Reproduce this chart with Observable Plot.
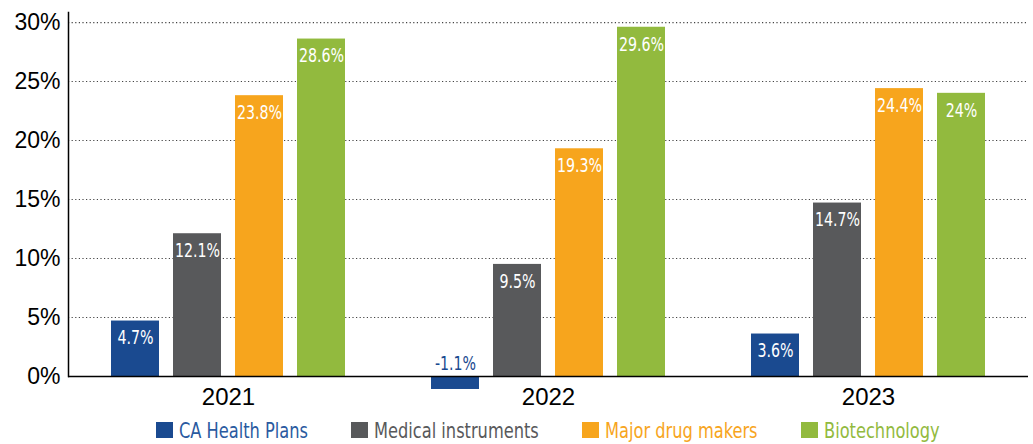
<!DOCTYPE html>
<html>
<head>
<meta charset="utf-8">
<script src="https://cdn.jsdelivr.net/npm/d3@7"></script>
<script src="https://cdn.jsdelivr.net/npm/@observablehq/plot@0.6"></script>
<style>
  html, body { margin: 0; padding: 0; background: #fff; }
  #chart { width: 1033px; }
  #chart svg g[aria-label="text"] { font-stretch: condensed; }
  .legend {
    display: flex; justify-content: center; align-items: center;
    height: 32px; box-sizing: border-box; padding: 4px 5px 0 68px;
    font-family: "DejaVu Sans Condensed", "DejaVu Sans", sans-serif;
    font-stretch: condensed;
    font-size: 22px; gap: 43px;
  }
  .legend .item { display: flex; align-items: center; white-space: nowrap; }
  .legend .sw { width: 17px; height: 16px; margin-right: 6px; flex: none; }
  .legend .lab { display: inline-block; transform-origin: left center; }
</style>
</head>
<body>
<div id="chart"></div>
<script>
const years = ["2021", "2022", "2023"];
const series = ["CA Health Plans", "Medical instruments", "Major drug makers", "Biotechnology"];
const colors = ["#1a4a90", "#58595b", "#f7a51d", "#92ba3e"];
const legendTextColors = ["#2a5aa0", "#58595b", "#f7a51d", "#92ba3e"];
const caHealthPlans = [4.7, -1.1, 3.6];
const medicalInstruments = [12.1, 9.5, 14.7];
const majorDrugMakers = [23.8, 19.3, 24.4];
const biotechnology = [28.6, 29.6, 24];
const yTicks = [0, 5, 10, 15, 20, 25, 30];

const seriesValues = [caHealthPlans, medicalInstruments, majorDrugMakers, biotechnology];
const data = [];
years.forEach((year, i) => {
  series.forEach((s, j) => {
    data.push({year, series: s, value: seriesValues[j][i]});
  });
});
const pos = data.filter(d => d.value >= 0);
const neg = data.filter(d => d.value < 0);
const narrow = '"DejaVu Sans Condensed", "DejaVu Sans", sans-serif';
const squeeze = 0.79;      // horizontal compression for condensed look
const legendSqueeze = 0.82;

const chart = Plot.plot({
  width: 1033,
  height: 412,
  marginLeft: 68,
  marginRight: 5,
  marginTop: 12,
  marginBottom: 36,
  style: {fontFamily: '"Liberation Sans", sans-serif', background: "#fff", color: "#000"},
  fx: {domain: years, padding: 0, label: null, axis: null},
  x: {domain: series, paddingInner: 0.23, paddingOuter: 0.675, axis: null},
  y: {domain: [0, 30.85], axis: null},
  color: {domain: series, range: colors},
  marks: [
    Plot.gridY(yTicks.filter(t => t > 0), {stroke: "#444", strokeOpacity: 1, strokeDasharray: "1.2,2.4", strokeWidth: 1.2}),
    Plot.barY(data, {fx: "year", x: "series", y: "value", fill: "series"}),
    Plot.ruleY([0], {stroke: "#000", strokeWidth: 1.5}),
    Plot.frame({anchor: "left", facetAnchor: "left", stroke: "#000", strokeWidth: 1.5}),
    Plot.axisY(yTicks, {tickSize: 0, tickPadding: 8, tickFormat: d => d + "%", fontSize: 23, fill: "#000", label: null}),
    Plot.axisFx({anchor: "bottom", tickSize: 0, tickPadding: 11, fontSize: 24, fill: "#000", label: null}),
    Plot.text(pos, {fx: "year", x: "series", y: "value", text: d => d.value + "%", dy: 17, fill: "#fff", fontSize: 20, fontFamily: narrow}),
    Plot.text(neg, {fx: "year", x: "series", y: () => 0, text: d => d.value + "%", dy: -13, fill: colors[0], fontSize: 20, fontFamily: narrow})
  ]
});
document.getElementById("chart").appendChild(chart);

// condense the bar labels (styling only)
d3.select(chart).selectAll('g[aria-label="text"] text').each(function () {
  const w = this.getComputedTextLength();
  this.setAttribute("textLength", (w * squeeze).toFixed(2));
  this.setAttribute("lengthAdjust", "spacingAndGlyphs");
});

const legend = document.createElement("div");
legend.className = "legend";
document.getElementById("chart").appendChild(legend);
series.forEach((s, i) => {
  const item = document.createElement("div");
  item.className = "item";
  const sw = document.createElement("span");
  sw.className = "sw";
  sw.style.background = colors[i];
  const label = document.createElement("span");
  label.className = "lab";
  label.textContent = s;
  label.style.color = legendTextColors[i];
  item.appendChild(sw);
  item.appendChild(label);
  legend.appendChild(item);
  const w = label.getBoundingClientRect().width;
  label.style.transform = `scaleX(${legendSqueeze})`;
  label.style.marginRight = `${-(1 - legendSqueeze) * w}px`;
});
</script>
</body>
</html>
